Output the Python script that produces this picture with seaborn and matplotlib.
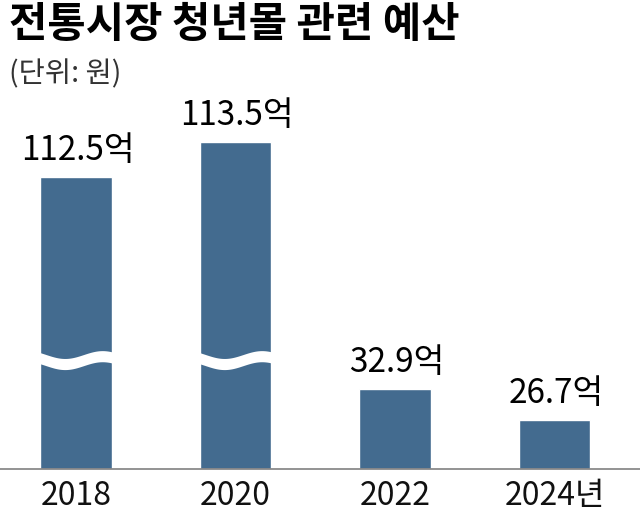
import numpy as np
import matplotlib
matplotlib.use("Agg")
import matplotlib.pyplot as plt
import matplotlib.transforms as mtransforms
import seaborn as sns

# 데이터
years = ["2018", "2020", "2022", "2024년"]
budget = [112.5, 113.5, 32.9, 26.7]  # 억 원

# 물결 표시(생략 구간)로 그리는 막대 기준
BREAK_ABOVE = 100

# 그림과 같이 축을 구간별로 압축하는 눈금 (값 -> 픽셀 높이)
scale_vals = [0, 26.7, 32.9, 112.5, 113.5, 150]
scale_px = [-84.5, 49, 80, 292, 327, 500]

BAR_COLOR = "#436b8f"
NUM_FONT = ["Liberation Sans Narrow", "Noto Sans CJK KR", "DejaVu Sans"]
KR_FONT = ["Noto Sans CJK KR", "DejaVu Sans"]

sns.set_style("white")
plt.rcParams["font.family"] = KR_FONT
plt.rcParams["axes.unicode_minus"] = False

fig = plt.figure(figsize=(6.4, 5.15), dpi=100)
ax = fig.add_axes([0, 46 / 515, 1, 327 / 515])

sns.barplot(x=years, y=budget, color=BAR_COLOR, saturation=1, width=0.45,
            errorbar=None, ax=ax)

def fwd(v):
    return np.interp(v, scale_vals, scale_px)

def inv(p):
    return np.interp(p, scale_px, scale_vals)

ax.set_yscale("function", functions=(fwd, inv))
ax.set_ylim(inv(0), 113.5)
ax.set_xlim(-0.477, 3.536)

# 값 라벨
for i, v in enumerate(budget):
    ax.annotate(f"{v}억", xy=(i, v), xytext=(1, 6.5), textcoords="offset points",
                ha="center", va="bottom", fontsize=24, fontweight="medium",
                family=NUM_FONT, color="black", annotation_clip=False)

# 물결 모양 생략 표시
trans = mtransforms.blended_transform_factory(ax.transData, ax.transAxes)
w = 0.45
for i, v in enumerate(budget):
    if v > BREAK_ABOVE:
        t = np.linspace(0, 1, 100)
        xs = i - w / 2 - 0.01 + t * (w + 0.02)
        mid = 0.333 + 0.012 * np.sin(2 * np.pi * t + 0.8 * np.pi)
        ax.fill_between(xs, mid - 0.017, mid + 0.017, color="white",
                        transform=trans, zorder=5, linewidth=0)

# 축
ax.set_xlabel("")
ax.set_ylabel("")
ax.set_yticks([])
for s in ["top", "right", "left"]:
    ax.spines[s].set_visible(False)
ax.spines["bottom"].set_color("#8a8a8a")
ax.spines["bottom"].set_linewidth(1.3)
ax.tick_params(axis="x", length=0, pad=8)
for lab in ax.get_xticklabels():
    lab.set_fontsize(23)
    lab.set_family(NUM_FONT)
    lab.set_color("#111111")

# 제목
fig.text(0.014, 0.992, "전통시장 청년몰 관련 예산", ha="left", va="top",
         fontsize=30, fontweight="black", family=KR_FONT, color="black")
fig.text(0.014, 0.885, "(단위: 원)", ha="left", va="top",
         fontsize=20.5, fontweight="light", family=KR_FONT, color="#333333")

fig.savefig("out.png", dpi=100)
